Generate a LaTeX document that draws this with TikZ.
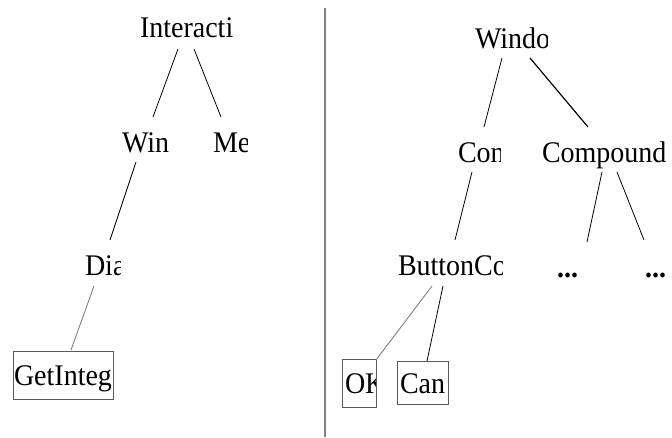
\documentclass[tikz,border=0pt]{standalone}
\usepackage{fontspec}
\setmainfont{Liberation Serif}
\tikzset{
  lab/.style={inner sep=0pt, outer sep=0pt, yscale=1.07, font=\fontsize{28}{30}\selectfont},
  edge/.style={draw=black, line width=0.8pt},
  grayedge/.style={draw=gray, line width=0.9pt},
  boxframe/.style={draw=black!65, line width=1.4pt},
  divider/.style={draw=gray, line width=1.3pt}
}
\newcommand\lbl[5]{\begin{scope}\clip (#2-6,#3-32) rectangle (#4,#3+12); \node[lab,anchor=base west] (#1) at (#2,#3) {#5};\end{scope}}
\begin{document}
\begin{tikzpicture}[x=1pt,y=-1pt]
\useasboundingbox (0,0) rectangle (672,437);
% divider
\coordinate (dtop) at (325,8);
\coordinate (dbot) at (325,437);
\draw[divider] (dtop) -- (dbot);
% labels left
\lbl{inter}{140}{37}{233}{Interacti}
\lbl{win}{122}{152}{200}{Win}
\lbl{me}{213}{152}{247}{Me}
\lbl{dia}{85}{275}{120}{Dia}
\lbl{get}{14}{385}{112}{GetInteg}
\node[boxframe, inner sep=0pt, minimum width=100pt, minimum height=48pt, anchor=north west] (getbox) at (13,351) {};
% labels right
\lbl{windo}{475}{48}{547}{Windo}
\lbl{con}{458}{162}{500}{Con}
\lbl{comp}{542}{162}{672}{Compound}
\lbl{btn}{398}{275}{502}{ButtonCo}
\node[lab,anchor=base west] (dots1) at (557,277) {\textbf{...}};
\node[lab,anchor=base west] (dots2) at (645,277) {\textbf{...}};
\lbl{ok}{345}{393}{375}{OK}
\node[boxframe, inner sep=0pt, minimum width=34pt, minimum height=48pt, anchor=north west] (okbox) at (342,359) {};
\lbl{can}{400}{393}{448}{Can}
\node[boxframe, inner sep=0pt, minimum width=51pt, minimum height=43pt, anchor=north west] (canbox) at (397,361) {};
% connector endpoints
\coordinate (a1) at (178,49);  \coordinate (a2) at (153,117);
\coordinate (b1) at (194,49);  \coordinate (b2) at (221,117);
\coordinate (c1) at (136,162); \coordinate (c2) at (110,240);
\coordinate (d1) at (94,286);  \coordinate (d2) at (71,350);
\coordinate (e1) at (502,58);  \coordinate (e2) at (484,127);
\coordinate (f1) at (530,58);  \coordinate (f2) at (588,127);
\coordinate (g1) at (472,172); \coordinate (g2) at (455,240);
\coordinate (h1) at (602,172); \coordinate (h2) at (587,242);
\coordinate (i1) at (617,172); \coordinate (i2) at (644,240);
\coordinate (j1) at (432,286); \coordinate (j2) at (376,360);
\coordinate (k1) at (443,286); \coordinate (k2) at (427,361);
\draw[edge] (a1) -- (a2);
\draw[edge] (b1) -- (b2);
\draw[edge] (c1) -- (c2);
\draw[grayedge] (d1) -- (d2);
\draw[edge] (e1) -- (e2);
\draw[edge, line width=1.2pt] (f1) -- (f2);
\draw[edge] (g1) -- (g2);
\draw[edge] (h1) -- (h2);
\draw[edge] (i1) -- (i2);
\draw[grayedge] (j1) -- (j2);
\draw[edge] (k1) -- (k2);
\end{tikzpicture}
\end{document}
